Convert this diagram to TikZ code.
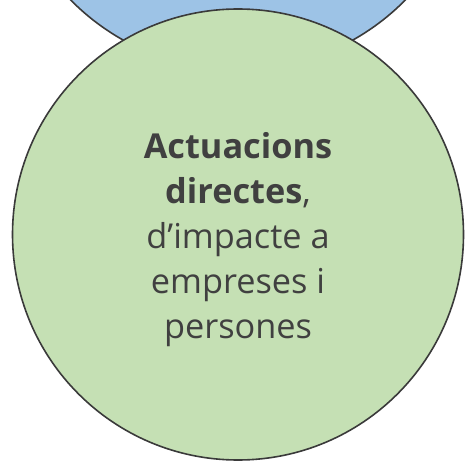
\documentclass[tikz,border=0pt]{standalone}
\usepackage{fontspec}
\setmainfont{Open Sans}
\definecolor{blueF}{HTML}{9DC3E6}
\definecolor{greenF}{HTML}{C5E0B4}
\definecolor{lineC}{HTML}{3A3A3A}
\definecolor{txtC}{HTML}{404040}
\begin{document}
\begin{tikzpicture}[x=1pt,y=-1pt,
  circ/.style={circle,draw=lineC,line width=1.6pt,inner sep=0pt},
  lbl/.style={align=center,text=txtC,font=\fontsize{34.3}{45}\selectfont}]
\useasboundingbox (0,0) rectangle (465,462);
\clip (0,0) rectangle (465,462);
\node[circ,fill=blueF,minimum size=470pt] (top) at (238,-165) {};
\node[circ,fill=greenF,minimum size=451pt] (main) at (238,234.5) {};
\node[lbl] (t) at (238,240) {\textbf{Actuacions}\\\textbf{directes},\\d’impacte a\\empreses i\\persones};
\end{tikzpicture}
\end{document}
